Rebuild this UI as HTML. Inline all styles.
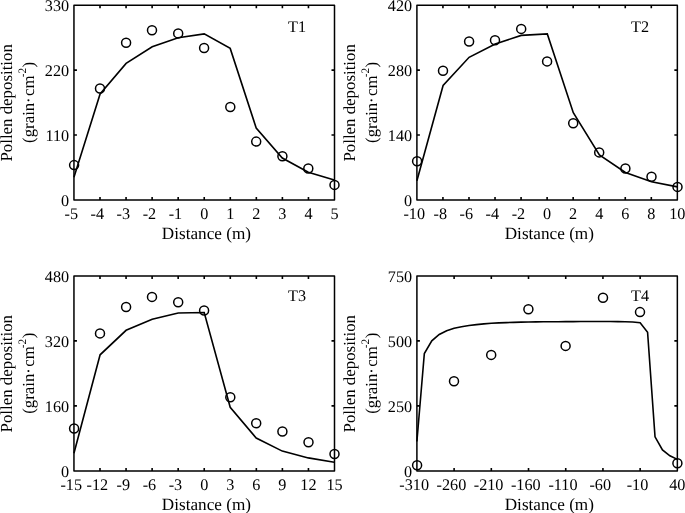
<!DOCTYPE html>
<html>
<head>
<meta charset="utf-8">
<title>Pollen deposition</title>
<style>
html,body{margin:0;padding:0;background:#fff;}
svg{display:block;will-change:transform;}
text{font-family:"Liberation Serif",serif;font-size:16.20px;fill:#000;text-rendering:geometricPrecision;}
.ax{fill:none;stroke:#000;stroke-width:1.50;stroke-linejoin:round;}
.tk{fill:none;stroke:#000;stroke-width:1.60;}
.cv{fill:none;stroke:#000;stroke-width:1.60;stroke-linejoin:miter;stroke-linecap:butt;}
.mk{fill:none;stroke:#000;stroke-width:1.50;}
.sup{font-size:11.30px;}
.xl{font-size:17.20px;}
.yl{font-size:16.85px;}
</style>
</head>
<body>
<svg width="685" height="513" viewBox="0 0 685 513">
<rect x="0" y="0" width="685" height="513" fill="#fff"/>
<g>
<path class="tk" d="M100.00 200.00v-3.00M100.00 5.13v3.00M126.06 200.00v-3.00M126.06 5.13v3.00M152.12 200.00v-3.00M152.12 5.13v3.00M178.17 200.00v-3.00M178.17 5.13v3.00M204.23 200.00v-3.00M204.23 5.13v3.00M230.28 200.00v-3.00M230.28 5.13v3.00M256.34 200.00v-3.00M256.34 5.13v3.00M282.39 200.00v-3.00M282.39 5.13v3.00M308.45 200.00v-3.00M308.45 5.13v3.00M73.95 135.04h3.00M334.50 135.04h-3.00M73.95 70.09h3.00M334.50 70.09h-3.00"/>
<polyline class="cv" points="73.95,177.20 100.10,94.00 126.10,63.40 152.20,46.80 178.20,37.70 204.20,33.90 230.20,48.40 256.20,128.00 282.30,158.00 308.30,172.30 334.30,180.10"/>
<circle class="mk" cx="74.1" cy="165.1" r="4.50"/>
<circle class="mk" cx="100.0" cy="88.5" r="4.50"/>
<circle class="mk" cx="126.1" cy="42.7" r="4.50"/>
<circle class="mk" cx="152.0" cy="30.2" r="4.50"/>
<circle class="mk" cx="178.2" cy="33.4" r="4.50"/>
<circle class="mk" cx="204.1" cy="48.0" r="4.50"/>
<circle class="mk" cx="230.3" cy="107.0" r="4.50"/>
<circle class="mk" cx="256.2" cy="141.6" r="4.50"/>
<circle class="mk" cx="282.4" cy="156.2" r="4.50"/>
<circle class="mk" cx="308.3" cy="168.5" r="4.50"/>
<circle class="mk" cx="334.5" cy="184.9" r="4.50"/>
<rect class="ax" x="73.95" y="5.13" width="260.55" height="194.87"/>
<text x="71.25" y="219.20" text-anchor="middle">-5</text>
<text x="97.31" y="219.20" text-anchor="middle">-4</text>
<text x="123.36" y="219.20" text-anchor="middle">-3</text>
<text x="149.42" y="219.20" text-anchor="middle">-2</text>
<text x="175.47" y="219.20" text-anchor="middle">-1</text>
<text x="204.23" y="219.20" text-anchor="middle">0</text>
<text x="230.28" y="219.20" text-anchor="middle">1</text>
<text x="256.34" y="219.20" text-anchor="middle">2</text>
<text x="282.39" y="219.20" text-anchor="middle">3</text>
<text x="308.45" y="219.20" text-anchor="middle">4</text>
<text x="334.50" y="219.20" text-anchor="middle">5</text>
<text x="69.15" y="205.90" text-anchor="end">0</text>
<text x="69.15" y="140.94" text-anchor="end">110</text>
<text x="69.15" y="75.99" text-anchor="end">220</text>
<text x="69.15" y="11.03" text-anchor="end">330</text>
<text x="288.00" y="31.70">T1</text>
<text x="206.42" y="239.10" class="xl" text-anchor="middle">Distance (m)</text>
<text transform="translate(12.15 102.86) rotate(-90)" class="yl" text-anchor="middle">Pollen deposition</text>
<text transform="translate(33.65 102.41) rotate(-90)" class="yl" text-anchor="middle">(grain<tspan dx="-0.2">·</tspan><tspan dx="1.4">cm</tspan><tspan class="sup" dx="-2" dy="-8">-2</tspan><tspan dx="0.4" dy="8">)</tspan></text>
</g>
<g>
<path class="tk" d="M442.94 200.00v-3.00M442.94 5.13v3.00M468.99 200.00v-3.00M468.99 5.13v3.00M495.03 200.00v-3.00M495.03 5.13v3.00M521.08 200.00v-3.00M521.08 5.13v3.00M547.12 200.00v-3.00M547.12 5.13v3.00M573.17 200.00v-3.00M573.17 5.13v3.00M599.22 200.00v-3.00M599.22 5.13v3.00M625.26 200.00v-3.00M625.26 5.13v3.00M651.31 200.00v-3.00M651.31 5.13v3.00M416.90 135.04h3.00M677.35 135.04h-3.00M416.90 70.09h3.00M677.35 70.09h-3.00"/>
<polyline class="cv" points="416.90,180.80 443.10,85.50 469.10,57.30 495.20,44.00 521.20,35.40 547.30,33.90 573.30,112.70 599.40,154.90 625.40,172.50 651.50,181.80 677.50,186.90"/>
<circle class="mk" cx="417.1" cy="161.2" r="4.50"/>
<circle class="mk" cx="443.0" cy="70.7" r="4.50"/>
<circle class="mk" cx="469.1" cy="41.5" r="4.50"/>
<circle class="mk" cx="495.0" cy="40.2" r="4.50"/>
<circle class="mk" cx="521.2" cy="28.9" r="4.50"/>
<circle class="mk" cx="547.1" cy="61.4" r="4.50"/>
<circle class="mk" cx="573.2" cy="123.2" r="4.50"/>
<circle class="mk" cx="599.2" cy="152.4" r="4.50"/>
<circle class="mk" cx="625.4" cy="168.5" r="4.50"/>
<circle class="mk" cx="651.5" cy="176.8" r="4.50"/>
<circle class="mk" cx="677.5" cy="186.9" r="4.50"/>
<rect class="ax" x="416.90" y="5.13" width="260.45" height="194.87"/>
<text x="414.20" y="219.20" text-anchor="middle">-10</text>
<text x="440.25" y="219.20" text-anchor="middle">-8</text>
<text x="466.29" y="219.20" text-anchor="middle">-6</text>
<text x="492.34" y="219.20" text-anchor="middle">-4</text>
<text x="518.38" y="219.20" text-anchor="middle">-2</text>
<text x="547.12" y="219.20" text-anchor="middle">0</text>
<text x="573.17" y="219.20" text-anchor="middle">2</text>
<text x="599.22" y="219.20" text-anchor="middle">4</text>
<text x="625.26" y="219.20" text-anchor="middle">6</text>
<text x="651.31" y="219.20" text-anchor="middle">8</text>
<text x="677.35" y="219.20" text-anchor="middle">10</text>
<text x="412.10" y="205.90" text-anchor="end">0</text>
<text x="412.10" y="140.94" text-anchor="end">140</text>
<text x="412.10" y="75.99" text-anchor="end">280</text>
<text x="412.10" y="11.03" text-anchor="end">420</text>
<text x="631.00" y="31.70">T2</text>
<text x="549.33" y="239.10" class="xl" text-anchor="middle">Distance (m)</text>
<text transform="translate(355.10 102.86) rotate(-90)" class="yl" text-anchor="middle">Pollen deposition</text>
<text transform="translate(376.60 102.41) rotate(-90)" class="yl" text-anchor="middle">(grain<tspan dx="-0.2">·</tspan><tspan dx="1.4">cm</tspan><tspan class="sup" dx="-2" dy="-8">-2</tspan><tspan dx="0.4" dy="8">)</tspan></text>
</g>
<g>
<path class="tk" d="M100.00 470.90v-3.00M100.00 275.90v3.00M126.06 470.90v-3.00M126.06 275.90v3.00M152.12 470.90v-3.00M152.12 275.90v3.00M178.17 470.90v-3.00M178.17 275.90v3.00M204.23 470.90v-3.00M204.23 275.90v3.00M230.28 470.90v-3.00M230.28 275.90v3.00M256.34 470.90v-3.00M256.34 275.90v3.00M282.39 470.90v-3.00M282.39 275.90v3.00M308.45 470.90v-3.00M308.45 275.90v3.00M73.95 405.90h3.00M334.50 405.90h-3.00M73.95 340.90h3.00M334.50 340.90h-3.00"/>
<polyline class="cv" points="73.95,453.30 100.10,354.80 126.10,330.30 152.20,319.30 178.20,313.00 204.20,312.50 230.20,407.30 256.20,438.00 282.30,451.10 308.30,457.90 334.30,462.30"/>
<circle class="mk" cx="74.1" cy="428.5" r="4.50"/>
<circle class="mk" cx="100.0" cy="333.4" r="4.50"/>
<circle class="mk" cx="126.1" cy="307.0" r="4.50"/>
<circle class="mk" cx="152.0" cy="296.9" r="4.50"/>
<circle class="mk" cx="178.2" cy="302.2" r="4.50"/>
<circle class="mk" cx="204.1" cy="310.5" r="4.50"/>
<circle class="mk" cx="230.3" cy="397.2" r="4.50"/>
<circle class="mk" cx="256.2" cy="423.2" r="4.50"/>
<circle class="mk" cx="282.4" cy="431.5" r="4.50"/>
<circle class="mk" cx="308.5" cy="442.3" r="4.50"/>
<circle class="mk" cx="334.5" cy="454.0" r="4.50"/>
<rect class="ax" x="73.95" y="275.90" width="260.55" height="195.00"/>
<text x="71.25" y="490.10" text-anchor="middle">-15</text>
<text x="97.31" y="490.10" text-anchor="middle">-12</text>
<text x="123.36" y="490.10" text-anchor="middle">-9</text>
<text x="149.42" y="490.10" text-anchor="middle">-6</text>
<text x="175.47" y="490.10" text-anchor="middle">-3</text>
<text x="204.23" y="490.10" text-anchor="middle">0</text>
<text x="230.28" y="490.10" text-anchor="middle">3</text>
<text x="256.34" y="490.10" text-anchor="middle">6</text>
<text x="282.39" y="490.10" text-anchor="middle">9</text>
<text x="308.45" y="490.10" text-anchor="middle">12</text>
<text x="334.50" y="490.10" text-anchor="middle">15</text>
<text x="69.15" y="476.80" text-anchor="end">0</text>
<text x="69.15" y="411.80" text-anchor="end">160</text>
<text x="69.15" y="346.80" text-anchor="end">320</text>
<text x="69.15" y="281.80" text-anchor="end">480</text>
<text x="288.00" y="301.40">T3</text>
<text x="206.42" y="510.00" class="xl" text-anchor="middle">Distance (m)</text>
<text transform="translate(12.15 373.70) rotate(-90)" class="yl" text-anchor="middle">Pollen deposition</text>
<text transform="translate(33.65 373.25) rotate(-90)" class="yl" text-anchor="middle">(grain<tspan dx="-0.2">·</tspan><tspan dx="1.4">cm</tspan><tspan class="sup" dx="-2" dy="-8">-2</tspan><tspan dx="0.4" dy="8">)</tspan></text>
</g>
<g>
<path class="tk" d="M454.11 470.90v-3.00M454.11 275.90v3.00M491.31 470.90v-3.00M491.31 275.90v3.00M528.52 470.90v-3.00M528.52 275.90v3.00M565.73 470.90v-3.00M565.73 275.90v3.00M602.94 470.90v-3.00M602.94 275.90v3.00M640.14 470.90v-3.00M640.14 275.90v3.00M416.90 405.90h3.00M677.35 405.90h-3.00M416.90 340.90h3.00M677.35 340.90h-3.00"/>
<polyline class="cv" points="416.90,441.50 424.34,353.50 431.78,340.80 439.22,334.50 446.67,330.80 454.11,328.30 461.55,326.70 468.99,325.50 476.43,324.60 483.87,323.90 491.31,323.30 498.76,322.90 506.20,322.60 513.64,322.35 521.08,322.15 528.52,322.00 535.96,321.90 543.40,321.80 550.85,321.75 558.29,321.70 565.73,321.65 573.17,321.60 580.61,321.55 588.05,321.55 595.49,321.55 602.94,321.55 610.38,321.55 617.82,321.60 625.26,321.75 632.70,322.00 640.14,322.80 647.58,332.20 655.03,436.80 662.47,449.90 669.91,455.80 677.35,459.40"/>
<circle class="mk" cx="417.1" cy="465.2" r="4.50"/>
<circle class="mk" cx="454.0" cy="381.2" r="4.50"/>
<circle class="mk" cx="491.2" cy="354.9" r="4.50"/>
<circle class="mk" cx="528.4" cy="309.2" r="4.50"/>
<circle class="mk" cx="565.6" cy="345.9" r="4.50"/>
<circle class="mk" cx="603.0" cy="297.7" r="4.50"/>
<circle class="mk" cx="640.0" cy="312.1" r="4.50"/>
<circle class="mk" cx="677.4" cy="463.3" r="4.50"/>
<rect class="ax" x="416.90" y="275.90" width="260.45" height="195.00"/>
<text x="414.20" y="490.10" text-anchor="middle">-310</text>
<text x="451.41" y="490.10" text-anchor="middle">-260</text>
<text x="488.62" y="490.10" text-anchor="middle">-210</text>
<text x="525.82" y="490.10" text-anchor="middle">-160</text>
<text x="563.03" y="490.10" text-anchor="middle">-110</text>
<text x="600.24" y="490.10" text-anchor="middle">-60</text>
<text x="637.45" y="490.10" text-anchor="middle">-10</text>
<text x="677.35" y="490.10" text-anchor="middle">40</text>
<text x="412.10" y="476.80" text-anchor="end">0</text>
<text x="412.10" y="411.80" text-anchor="end">250</text>
<text x="412.10" y="346.80" text-anchor="end">500</text>
<text x="412.10" y="281.80" text-anchor="end">750</text>
<text x="631.00" y="301.40">T4</text>
<text x="549.33" y="510.00" class="xl" text-anchor="middle">Distance (m)</text>
<text transform="translate(355.10 373.70) rotate(-90)" class="yl" text-anchor="middle">Pollen deposition</text>
<text transform="translate(376.60 373.25) rotate(-90)" class="yl" text-anchor="middle">(grain<tspan dx="-0.2">·</tspan><tspan dx="1.4">cm</tspan><tspan class="sup" dx="-2" dy="-8">-2</tspan><tspan dx="0.4" dy="8">)</tspan></text>
</g>
</svg>
</body>
</html>
